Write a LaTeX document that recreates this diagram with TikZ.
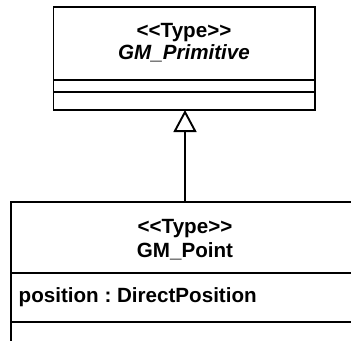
\documentclass[tikz,border=0pt]{standalone}
\usepackage{fontspec}
\setmainfont{Liberation Sans}
\usetikzlibrary{arrows.meta}

\tikzset{
	classbox/.style={draw, rectangle, line width=1.9bp, inner sep=0pt, outer sep=0pt},
	divider/.style={line width=1.9bp},
	umltext/.style={inner sep=0pt, anchor=base, font=\bfseries\fontsize{20.6bp}{24bp}\selectfont},
	inherit/.style={line width=1.9bp, -{Triangle[open, length=22bp, width=23bp]}}
}
\newcommand{\stereotype}[1]{{<}{<}#1{>}{>}}

\begin{document}
\begin{tikzpicture}[x=1bp,y=-1bp]
	\useasboundingbox (0,0) rectangle (351,341);
	\clip (0,0) rectangle (351,341);

	%GM_Primitive-------------------------------
		\node[classbox, minimum width=261.2bp, minimum height=103bp] (prim) at (184.1,58.5) {};
		\node[umltext] (primstereo) at (184,37.5) {\stereotype{Type}}; %stereotype
		\node[umltext, font=\bfseries\itshape\fontsize{20.6bp}{24bp}\selectfont] (primname) at (184,59.5) {GM\_Primitive}; %class name
		\draw[divider] (53.5,79.7) -- (314.7,79.7); %attributes
		\draw[divider] (53.5,91.7) -- (314.7,91.7); %operations

	%GM_Point-----------------------------------
		\node[classbox, minimum width=348.6bp, minimum height=140.3bp] (point) at (185,271.85) {};
		\node[umltext] (pointstereo) at (185,233.3) {\stereotype{Type}}; %stereotype
		\node[umltext] (pointname) at (185,257.7) {GM\_Point}; %class name
		\draw[divider] (10.7,272.7) -- (359.3,272.7); %attributes
		\node[umltext, anchor=base west] (pointattr) at (18.5,302) {\frenchspacing position : DirectPosition}; %attribute
		\draw[divider] (10.7,322) -- (359.3,322); %operations

	%generalisation
		\draw[inherit] (point.north) -- (point.north |- prim.south);
\end{tikzpicture}
\end{document}
